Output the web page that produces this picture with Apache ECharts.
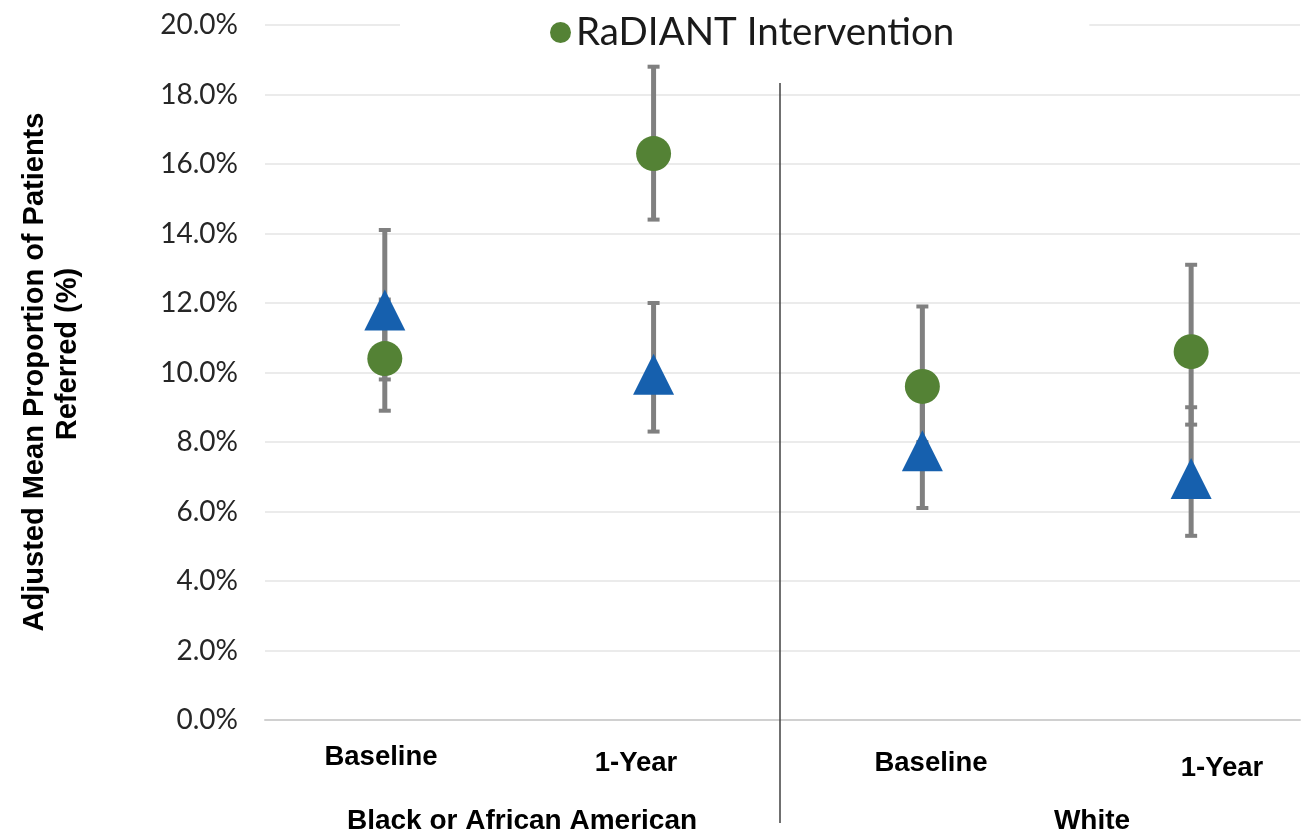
<!DOCTYPE html>
<html>
<head>
<meta charset="utf-8">
<script src="https://cdn.jsdelivr.net/npm/echarts@6/dist/echarts.min.js"></script>
<style>
html,body{margin:0;padding:0;background:#fff;}
#chart{width:1306px;height:834px;}
</style>
</head>
<body>
<div id="chart"></div>
<script>
// ---- data ----
const categories = ['Baseline', '1-Year', 'Baseline', '1-Year'];
const groups = ['Black or African American', 'White'];
const radiantMean = [10.4, 16.3, 9.6, 10.6];
const radiantLow  = [8.9, 14.4, 8.0, 8.5];
const radiantHigh = [12.1, 18.8, 11.9, 13.1];
const usualMean = [11.8, 9.95, 7.75, 6.95];
const usualLow  = [9.8, 8.3, 6.1, 5.3];
const usualHigh = [14.1, 12.0, 9.8, 9.0];
const yMin = 0, yMax = 20, yStep = 2;

const GREEN = '#548235', BLUE = '#1660ae', ERR = '#808080';

const chart = echarts.init(document.getElementById('chart'));

const errData = [];
categories.forEach((c, i) => {
  errData.push([i, radiantLow[i], radiantHigh[i]]);
  errData.push([i, usualLow[i], usualHigh[i]]);
});

function renderErr(params, api) {
  const x = api.value(0);
  const lo = api.coord([x, api.value(1)]);
  const hi = api.coord([x, api.value(2)]);
  const capW = 6;
  const st = { stroke: ERR, lineWidth: 5 };
  return {
    type: 'group',
    children: [
      { type: 'line', shape: { x1: lo[0], y1: lo[1], x2: hi[0], y2: hi[1] }, style: st },
      { type: 'line', shape: { x1: hi[0] - capW, y1: hi[1], x2: hi[0] + capW, y2: hi[1] }, style: { stroke: ERR, lineWidth: 4 } },
      { type: 'line', shape: { x1: lo[0] - capW, y1: lo[1], x2: lo[0] + capW, y2: lo[1] }, style: { stroke: ERR, lineWidth: 4 } }
    ]
  };
}

const labelFont = 'bold 27.5px "Liberation Sans", Arial, sans-serif';
const groupFont = 'bold 28px "Liberation Sans", Arial, sans-serif';
const titleFont = 'bold 29px "Liberation Sans", Arial, sans-serif';

// label positions (layout only)
const catLabelPos = [[381, 757], [636, 763], [931, 763], [1222, 768]];
const groupLabelPos = [[522, 821], [1092, 821]];

const graphics = [];
categories.forEach((c, i) => {
  graphics.push({ type: 'text', x: catLabelPos[i][0], y: catLabelPos[i][1], z: 10,
    style: { text: c, font: labelFont, fill: '#000', textAlign: 'center', textVerticalAlign: 'middle' } });
});
groups.forEach((g, i) => {
  graphics.push({ type: 'text', x: groupLabelPos[i][0], y: groupLabelPos[i][1], z: 10,
    style: { text: g, font: groupFont, fill: '#000', textAlign: 'center', textVerticalAlign: 'middle' } });
});
graphics.push({ type: 'line', z: 10, shape: { x1: 780, y1: 83, x2: 780, y2: 823 }, style: { stroke: '#404040', lineWidth: 1.5 } });
graphics.push({ type: 'text', x: 35, y: 372, rotation: Math.PI / 2, z: 10,
  style: { text: 'Adjusted Mean Proportion of Patients', font: titleFont, fill: '#000', textAlign: 'center', textVerticalAlign: 'middle' } });
graphics.push({ type: 'text', x: 68, y: 354, rotation: Math.PI / 2, z: 10,
  style: { text: 'Referred (%)', font: titleFont, fill: '#000', textAlign: 'center', textVerticalAlign: 'middle' } });

chart.setOption({
  animation: false,
  backgroundColor: '#fff',
  grid: { left: 265, right: 6, top: 25, bottom: 114 },
  legend: {
    data: ['RaDIANT Intervention'],
    left: 400, top: 7,
    padding: [6, 135, 6, 150],
    backgroundColor: '#fff',
    icon: 'circle', itemWidth: 21, itemHeight: 21,
    textStyle: { fontFamily: 'Lato, sans-serif', fontSize: 38.5, color: '#1a1a1a' }
  },
  xAxis: {
    type: 'value', min: -0.4457, max: 3.405,
    axisLabel: { show: false }, axisTick: { show: false }, splitLine: { show: false },
    axisLine: { show: true, onZero: false, lineStyle: { color: '#d0d0d0', width: 2 } }
  },
  yAxis: {
    type: 'value', min: yMin, max: yMax, interval: yStep,
    axisLine: { show: false }, axisTick: { show: false },
    splitLine: { lineStyle: { color: '#ebebeb', width: 2 } },
    axisLabel: { margin: 27, fontFamily: 'Lato, sans-serif', fontSize: 28, color: '#262626',
      formatter: v => v.toFixed(1) + '%' }
  },
  series: [
    { type: 'custom', name: 'err', renderItem: renderErr, data: errData, z: 1,
      encode: { x: 0, y: [1, 2] }, silent: true },
    { type: 'scatter', name: 'RaDIANT Intervention', symbol: 'circle', symbolSize: 35, z: 3,
      itemStyle: { color: GREEN, opacity: 1 },
      data: radiantMean.map((v, i) => [i, v]) },
    { type: 'scatter', name: 'Usual Care', symbol: 'triangle', symbolSize: 41, z: 4,
      itemStyle: { color: BLUE, opacity: 1 },
      data: usualMean.map((v, i) => [i, v]) }
  ],
  graphic: graphics
});
</script>
</body>
</html>
